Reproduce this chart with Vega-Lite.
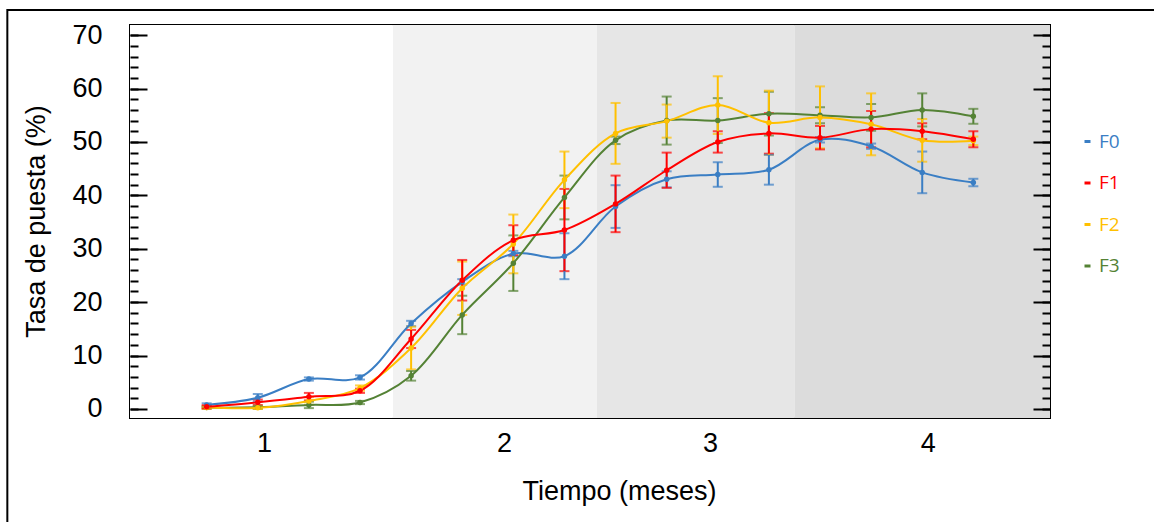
{
  "$schema": "https://vega.github.io/schema/vega-lite/v6.json",
  "width": 920,
  "height": 393,
  "autosize": {"type": "none"},
  "padding": {"left": 130, "top": 25, "right": 104, "bottom": 104},
  "background": "white",
  "config": {
    "view": {"stroke": "black", "strokeWidth": 2},
    "font": "Liberation Sans",
    "axis": {"grid": false, "domain": false, "tickColor": "black", "tickWidth": 2, "labelColor": "black", "titleColor": "black", "titleFontWeight": "normal"}
  },
  "datasets": {
    "tasa": [
      {"s": 1, "g": "F0", "t": 0.75, "e": 0.3},
      {"s": 2, "g": "F0", "t": 2.1, "e": 0.7},
      {"s": 3, "g": "F0", "t": 5.6, "e": 0.3},
      {"s": 4, "g": "F0", "t": 5.9, "e": 0.4},
      {"s": 5, "g": "F0", "t": 16.0, "e": 0.5},
      {"s": 6, "g": "F0", "t": 23.8, "e": 0.5},
      {"s": 7, "g": "F0", "t": 29.1, "e": 0.5},
      {"s": 8, "g": "F0", "t": 28.6, "e": 4.3},
      {"s": 9, "g": "F0", "t": 37.9, "e": 4.0},
      {"s": 10, "g": "F0", "t": 43.0, "e": 1.5},
      {"s": 11, "g": "F0", "t": 43.9, "e": 2.3},
      {"s": 12, "g": "F0", "t": 44.8, "e": 2.8},
      {"s": 13, "g": "F0", "t": 50.4, "e": 0.5},
      {"s": 14, "g": "F0", "t": 49.2, "e": 0.5},
      {"s": 15, "g": "F0", "t": 44.3, "e": 3.9},
      {"s": 16, "g": "F0", "t": 42.4, "e": 0.7},
      {"s": 1, "g": "F3", "t": 0.25, "e": 0.2},
      {"s": 2, "g": "F3", "t": 0.3, "e": 0.3},
      {"s": 3, "g": "F3", "t": 0.75, "e": 0.6},
      {"s": 4, "g": "F3", "t": 1.2, "e": 0.3},
      {"s": 5, "g": "F3", "t": 6.2, "e": 0.9},
      {"s": 6, "g": "F3", "t": 17.6, "e": 3.6},
      {"s": 7, "g": "F3", "t": 27.3, "e": 5.2},
      {"s": 8, "g": "F3", "t": 39.6, "e": 4.1},
      {"s": 9, "g": "F3", "t": 50.3, "e": 0.7},
      {"s": 10, "g": "F3", "t": 54.0, "e": 4.5},
      {"s": 11, "g": "F3", "t": 54.0, "e": 4.2},
      {"s": 12, "g": "F3", "t": 55.3, "e": 4.1},
      {"s": 13, "g": "F3", "t": 55.0, "e": 1.5},
      {"s": 14, "g": "F3", "t": 54.6, "e": 2.5},
      {"s": 15, "g": "F3", "t": 56.0, "e": 3.1},
      {"s": 16, "g": "F3", "t": 54.8, "e": 1.4},
      {"s": 1, "g": "F2", "t": 0.25, "e": 0.2},
      {"s": 2, "g": "F2", "t": 0.2, "e": 0.2},
      {"s": 3, "g": "F2", "t": 1.5, "e": 0.7},
      {"s": 4, "g": "F2", "t": 3.9, "e": 0.5},
      {"s": 5, "g": "F2", "t": 11.4, "e": 4.0},
      {"s": 6, "g": "F2", "t": 22.6, "e": 5.0},
      {"s": 7, "g": "F2", "t": 30.9, "e": 5.5},
      {"s": 8, "g": "F2", "t": 42.9, "e": 5.3},
      {"s": 9, "g": "F2", "t": 51.6, "e": 5.7},
      {"s": 10, "g": "F2", "t": 53.9, "e": 3.1},
      {"s": 11, "g": "F2", "t": 56.9, "e": 5.4},
      {"s": 12, "g": "F2", "t": 53.6, "e": 6.0},
      {"s": 13, "g": "F2", "t": 54.6, "e": 5.8},
      {"s": 14, "g": "F2", "t": 53.3, "e": 5.8},
      {"s": 15, "g": "F2", "t": 50.3, "e": 4.0},
      {"s": 16, "g": "F2", "t": 50.2, "e": 0.8},
      {"s": 1, "g": "F1", "t": 0.4, "e": 0.3},
      {"s": 2, "g": "F1", "t": 1.25, "e": 0.5},
      {"s": 3, "g": "F1", "t": 2.3, "e": 0.7},
      {"s": 4, "g": "F1", "t": 3.4, "e": 0.4},
      {"s": 5, "g": "F1", "t": 13.1, "e": 1.7},
      {"s": 6, "g": "F1", "t": 24.1, "e": 3.8},
      {"s": 7, "g": "F1", "t": 31.6, "e": 2.8},
      {"s": 8, "g": "F1", "t": 33.5, "e": 7.7},
      {"s": 9, "g": "F1", "t": 38.4, "e": 5.3},
      {"s": 10, "g": "F1", "t": 44.7, "e": 3.3},
      {"s": 11, "g": "F1", "t": 50.0, "e": 2.0},
      {"s": 12, "g": "F1", "t": 51.6, "e": 3.8},
      {"s": 13, "g": "F1", "t": 50.8, "e": 2.2},
      {"s": 14, "g": "F1", "t": 52.4, "e": 3.4},
      {"s": 15, "g": "F1", "t": 52.0, "e": 1.5},
      {"s": 16, "g": "F1", "t": 50.5, "e": 1.5}
    ],
    "fases": [
      {"ini": -0.5, "fin": 4.645, "fase": "mes1"},
      {"ini": 4.645, "fin": 8.637, "fase": "mes2"},
      {"ini": 8.637, "fin": 12.51, "fase": "mes3"},
      {"ini": 12.51, "fin": 17.5, "fase": "mes4"}
    ]
  },
  "layer": [
    {
      "data": {"name": "fases"},
      "mark": {"type": "rect"},
      "encoding": {
        "x": {
          "field": "ini", "type": "quantitative",
          "scale": {"domain": [-0.5, 17.5], "nice": false, "zero": false},
          "axis": {
            "orient": "bottom",
            "values": [2.12, 6.82, 10.85, 15.11],
            "labelExpr": "datum.value < 4 ? '1' : datum.value < 8 ? '2' : datum.value < 13 ? '3' : '4'",
            "ticks": false,
            "labelFontSize": 27,
            "labelPadding": 12,
            "labelFlush": false,
            "title": "Tiempo (meses)",
            "titleFontSize": 27,
            "titleX": 489,
            "titleY": 60,
            "titleBaseline": "top",
            "zindex": 1
          }
        },
        "x2": {"field": "fin"},
        "fill": {
          "field": "fase", "type": "nominal",
          "scale": {"domain": ["mes1", "mes2", "mes3", "mes4"], "range": ["#ffffff", "#f2f2f2", "#e6e6e6", "#dcdcdc"]},
          "legend": null
        }
      }
    },
    {
      "data": {"values": [{}]},
      "mark": {"type": "rect", "fillOpacity": 0, "stroke": "black", "strokeWidth": 2, "clip": false},
      "encoding": {
        "x": {"datum": -2.9, "type": "quantitative"},
        "x2": {"datum": 21},
        "y": {
          "datum": 74.7, "type": "quantitative",
          "scale": {"domain": [-1.7, 71.9], "nice": false, "zero": false},
          "axis": {
            "orient": "left",
            "values": [0, 10, 20, 30, 40, 50, 60, 70],
            "tickSize": 17,
            "offset": -17,
            "labelFontSize": 27,
            "labelPadding": 28,
            "title": "Tasa de puesta (%)",
            "titleFontSize": 27,
            "titleX": -97,
            "titleY": 196,
            "zindex": 1
          }
        },
        "y2": {"datum": -26}
      }
    },
    {
      "data": {"name": "tasa"},
      "mark": {"type": "errorbar", "thickness": 2, "ticks": {"size": 10, "thickness": 2}},
      "encoding": {
        "x": {"field": "s", "type": "quantitative"},
        "y": {
          "field": "t", "type": "quantitative",
          "axis": {
            "orient": "left",
            "values": [0, 2, 4, 6, 8, 10, 12, 14, 16, 18, 20, 22, 24, 26, 28, 30, 32, 34, 36, 38, 40, 42, 44, 46, 48, 50, 52, 54, 56, 58, 60, 62, 64, 66, 68, 70],
            "tickSize": 8,
            "offset": -8,
            "labels": false,
            "title": null,
            "zindex": 1
          }
        },
        "yError": {"field": "e"},
        "color": {"field": "g", "type": "nominal"}
      }
    },
    {
      "data": {"name": "tasa"},
      "mark": {"type": "line", "interpolate": "catmull-rom", "strokeWidth": 2},
      "encoding": {
        "x": {"field": "s", "type": "quantitative"},
        "y": {
          "field": "t", "type": "quantitative",
          "axis": {
            "orient": "right",
            "values": [0, 10, 20, 30, 40, 50, 60, 70],
            "tickSize": 17,
            "offset": -17,
            "labels": false,
            "title": null,
            "zindex": 1
          }
        },
        "color": {
          "field": "g", "type": "nominal",
          "scale": {"domain": ["F0", "F1", "F2", "F3"], "range": ["#3a7ec4", "#ff0000", "#ffc000", "#548235"]},
          "legend": {
            "orient": "none",
            "legendX": 948,
            "legendY": 107,
            "title": null,
            "symbolType": "stroke",
            "symbolSize": 36,
            "symbolStrokeWidth": 3,
            "labelFont": "Open Sans",
            "labelFontSize": 19,
            "labelOffset": 2,
            "rowPadding": 21.5,
            "encode": {"labels": {"update": {"fill": {"scale": "color", "field": "value"}}}}
          }
        }
      }
    },
    {
      "data": {"name": "tasa"},
      "mark": {"type": "point", "filled": true, "size": 30, "opacity": 1},
      "encoding": {
        "x": {"field": "s", "type": "quantitative"},
        "y": {
          "field": "t", "type": "quantitative",
          "axis": {
            "orient": "right",
            "values": [0, 2, 4, 6, 8, 10, 12, 14, 16, 18, 20, 22, 24, 26, 28, 30, 32, 34, 36, 38, 40, 42, 44, 46, 48, 50, 52, 54, 56, 58, 60, 62, 64, 66, 68, 70],
            "tickSize": 8,
            "offset": -8,
            "labels": false,
            "title": null,
            "zindex": 1
          }
        },
        "color": {"field": "g", "type": "nominal"}
      }
    }
  ],
  "resolve": {"axis": {"y": "independent"}}
}
